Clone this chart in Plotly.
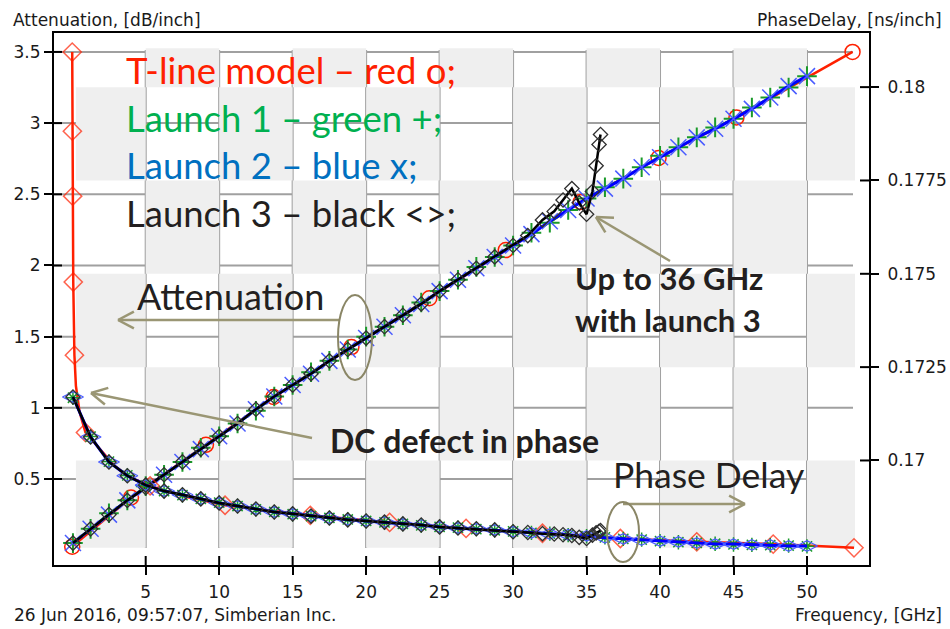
import math
import plotly.graph_objects as go

# ---------------- data ----------------
# Measured launches share one frequency grid (GHz)
FREQ = [0.05, 1.25, 2.5, 3.75, 5.0, 6.25, 7.5, 8.75, 10.0, 11.25, 12.5, 13.75, 15.0,
        16.25, 17.5, 18.75, 20.0, 21.25, 22.5, 23.75, 25.0, 26.25, 27.5, 28.75, 30.0,
        31.25, 32.5, 33.75, 35.0, 36.25, 37.5, 38.75, 40.0, 41.25, 42.5, 43.75, 45.0,
        46.25, 47.5, 48.75, 50.0]

# Launch 1 (green)
L1_ATT = [0.05, 0.15, 0.26, 0.35, 0.45, 0.53, 0.62, 0.72, 0.80, 0.89, 0.98, 1.08, 1.16,
          1.25, 1.33, 1.41, 1.50, 1.57, 1.65, 1.74, 1.82, 1.90, 1.99, 2.06, 2.14, 2.23,
          2.30, 2.39, 2.47, 2.55, 2.61, 2.69, 2.77, 2.83, 2.90, 2.97, 3.03, 3.11, 3.18,
          3.25, 3.33]
L1_PHASE = [0.17168, 0.17064, 0.16997, 0.16960, 0.16933, 0.16918, 0.16907, 0.16897,
            0.16887, 0.16878, 0.16869, 0.16862, 0.16856, 0.16851, 0.16846, 0.16842,
            0.16838, 0.16834, 0.16830, 0.16826, 0.16822, 0.16820, 0.16816, 0.16813,
            0.16810, 0.16806, 0.16804, 0.16800, 0.16797, 0.16794, 0.16790, 0.16788,
            0.16784, 0.16781, 0.16779, 0.16777, 0.16775, 0.16774, 0.16773, 0.16772,
            0.16770]

# Launch 2 (blue)
L2_ATT = [0.05, 0.15, 0.25, 0.35, 0.44, 0.53, 0.62, 0.71, 0.80, 0.89, 0.99, 1.08, 1.16,
          1.24, 1.33, 1.41, 1.49, 1.57, 1.65, 1.73, 1.82, 1.90, 1.98, 2.06, 2.14, 2.22,
          2.31, 2.39, 2.47, 2.54, 2.61, 2.69, 2.76, 2.83, 2.90, 2.96, 3.03, 3.10, 3.18,
          3.26, 3.33]
L2_PHASE = [0.17170, 0.17063, 0.16996, 0.16959, 0.16934, 0.16918, 0.16908, 0.16897,
            0.16886, 0.16878, 0.16870, 0.16862, 0.16857, 0.16851, 0.16846, 0.16841,
            0.16838, 0.16835, 0.16830, 0.16827, 0.16822, 0.16819, 0.16817, 0.16814,
            0.16809, 0.16806, 0.16803, 0.16801, 0.16798, 0.16793, 0.16790, 0.16787,
            0.16784, 0.16782, 0.16779, 0.16776, 0.16776, 0.16774, 0.16774, 0.16771,
            0.16771]

# Launch 3 (black) - valid up to 36 GHz
L3_FREQ = [0.05, 1.25, 2.5, 3.75, 5.0, 6.25, 7.5, 8.75, 10.0, 11.25, 12.5, 13.75, 15.0,
           16.25, 17.5, 18.75, 20.0, 21.25, 22.5, 23.75, 25.0, 26.25, 27.5, 28.75, 30.0,
           31.0, 32.0, 32.8, 33.4, 34.0, 34.5, 35.0, 35.4, 35.65, 35.85, 35.95]
L3_ATT = [0.05, 0.15, 0.25, 0.35, 0.44, 0.53, 0.62, 0.71, 0.80, 0.89, 0.99, 1.08, 1.16,
          1.24, 1.33, 1.41, 1.49, 1.57, 1.65, 1.73, 1.82, 1.90, 1.98, 2.06, 2.14,
          2.21, 2.32, 2.38, 2.46, 2.54, 2.44, 2.36, 2.52, 2.70, 2.85, 2.92]
L3_PHASE = [0.17170, 0.17063, 0.16996, 0.16959, 0.16934, 0.16918, 0.16908, 0.16897,
            0.16886, 0.16878, 0.16870, 0.16862, 0.16857, 0.16851, 0.16846, 0.16841,
            0.16838, 0.16835, 0.16830, 0.16827, 0.16822, 0.16819, 0.16817, 0.16814,
            0.16809, 0.16807, 0.16804, 0.16803, 0.16801, 0.16799, 0.16794, 0.16791,
            0.16800, 0.16806, 0.16810, 0.16812]

# T-line model (red)
TL_ATT_FREQ = [0.0, 4.0, 9.1, 13.7, 19.0, 24.3, 29.5, 34.6, 39.9, 45.2, 53.1]
TL_ATT = [0.025, 0.37, 0.74, 1.076, 1.427, 1.77, 2.108, 2.446, 2.755, 3.04, 3.5]

TL_PHASE_FREQ = [0.0, 0.01, 0.03, 0.07, 0.15, 0.25, 0.5, 0.9, 1.9, 2.9, 3.9, 5.3, 7.5,
                 10.4, 16.2, 21.6, 26.8, 32.0, 37.3, 42.5, 47.7, 53.2]
TL_PHASE = [0.18094, 0.17882, 0.17708, 0.17478, 0.17282, 0.17200, 0.17130, 0.17075,
            0.17030, 0.16985, 0.16955, 0.16932, 0.16905, 0.16880, 0.16853, 0.16834,
            0.16818, 0.16805, 0.16791, 0.16782, 0.16776, 0.16766]
TL_PHASE_MARKED = [0, 1, 2, 3, 4, 7, 11, 13, 14, 15, 16, 17, 18, 19, 20, 21]

# Axis ticks
X_TICKS = [5, 10, 15, 20, 25, 30, 35, 40, 45, 50]
ATT_TICKS = [0.5, 1.0, 1.5, 2.0, 2.5, 3.0, 3.5]
ATT_LABELS = ["0.5", "1", "1.5", "2", "2.5", "3", "3.5"]
PH_TICKS = [0.17, 0.1725, 0.175, 0.1775, 0.18]
PH_LABELS = ["0.17", "0.1725", "0.175", "0.1775", "0.18"]

# Background checker board: columns by frequency, rows by phase delay
CHECK_COLS = [0.25, 5, 10, 15, 20, 25, 30, 35, 40, 45, 50, 53.27]
CHECK_ROWS = [0.16766, 0.17, 0.1725, 0.175, 0.1775, 0.18, 0.18104]

# ---------------- styling ----------------
W, H = 950, 629
L, R, T, B = 54, 869, 33, 565
RED = "#ff2000"
GREEN = "#1a9a2a"
BLUE_LINE = "#0000ff"
BLUE_MK = "#4a5cff"
BLACK = "#000000"
KHAKI = "#9a9674"
TXT = "#231f20"
TICK_FONT = dict(family="DejaVu Sans", size=17, color="#1a1a1a")
NOTE_FONT = "Lato"


def px(p):
    return (p - L) / (R - L)


def py(p):
    return (B - p) / (B - T)


fig = go.Figure()

# T-line model
fig.add_trace(go.Scatter(
    x=TL_ATT_FREQ, y=TL_ATT, mode="lines+markers", yaxis="y",
    line=dict(color=RED, width=2.5),
    marker=dict(symbol="circle-open", size=15, color=RED, line=dict(width=1.5))))
fig.add_trace(go.Scatter(
    x=TL_PHASE_FREQ, y=TL_PHASE, mode="lines+markers", yaxis="y2",
    line=dict(color=RED, width=2.5),
    marker=dict(symbol="diamond-open", color=RED, line=dict(width=1.5),
                size=[14 if i in TL_PHASE_MARKED else 0 for i in range(len(TL_PHASE))])))

# Launch 1
fig.add_trace(go.Scatter(
    x=FREQ, y=L1_ATT, mode="lines+markers", yaxis="y",
    line=dict(color=GREEN, width=2),
    marker=dict(symbol="cross-thin-open", size=14, color=GREEN, line=dict(width=2))))
fig.add_trace(go.Scatter(
    x=FREQ, y=L1_PHASE, mode="lines+markers", yaxis="y2",
    line=dict(color=GREEN, width=2),
    marker=dict(symbol="asterisk-open", size=12, color=GREEN, line=dict(width=1.5))))

# Launch 2
fig.add_trace(go.Scatter(
    x=FREQ, y=L2_ATT, mode="lines+markers", yaxis="y",
    line=dict(color=BLUE_LINE, width=3),
    marker=dict(symbol="x-thin-open", size=16, color=BLUE_MK, line=dict(width=1.5))))
fig.add_trace(go.Scatter(
    x=FREQ, y=L2_PHASE, mode="lines+markers", yaxis="y2",
    line=dict(color=BLUE_LINE, width=3),
    marker=dict(symbol="diamond-wide-open", size=15, color=BLUE_MK, line=dict(width=1.2))))

# Launch 3
fig.add_trace(go.Scatter(
    x=L3_FREQ, y=L3_ATT, mode="lines+markers", yaxis="y",
    line=dict(color=BLACK, width=2.5),
    marker=dict(symbol="diamond-open", size=11, color="#303030", line=dict(width=1.3))))
fig.add_trace(go.Scatter(
    x=L3_FREQ, y=L3_PHASE, mode="lines+markers", yaxis="y2",
    line=dict(color=BLACK, width=2.5),
    marker=dict(symbol="diamond-open", size=11, color="#303030", line=dict(width=1.3))))

shapes = []
# checker board background
for i in range(len(CHECK_COLS) - 1):
    for j in range(len(CHECK_ROWS) - 1):
        if (i + j) % 2 == 0:
            shapes.append(dict(type="rect", xref="x", yref="y2", layer="below",
                               x0=CHECK_COLS[i], x1=CHECK_COLS[i + 1],
                               y0=CHECK_ROWS[j], y1=CHECK_ROWS[j + 1],
                               fillcolor="#efefef", line=dict(width=0)))
# grid
for xv in X_TICKS:
    shapes.append(dict(type="line", xref="x", yref="paper", layer="below",
                       x0=xv, x1=xv, y0=py(548), y1=py(50),
                       line=dict(color="#a0a0a0", width=2)))
for yv in ATT_TICKS:
    shapes.append(dict(type="line", xref="paper", yref="y", layer="below",
                       x0=0, x1=px(853), y0=yv, y1=yv,
                       line=dict(color="#a0a0a0", width=2)))
# tick stubs inside the frame
for xv in X_TICKS:
    shapes.append(dict(type="line", xref="x", yref="paper", x0=xv, x1=xv,
                       y0=0, y1=py(556), line=dict(color="black", width=2)))
for yv in ATT_TICKS:
    shapes.append(dict(type="line", xref="paper", yref="y", x0=0, x1=px(62),
                       y0=yv, y1=yv, line=dict(color="black", width=2)))
for yv in PH_TICKS:
    shapes.append(dict(type="line", xref="paper", yref="y2", x0=px(860), x1=1,
                       y0=yv, y1=yv, line=dict(color="black", width=2)))


def arrow(x0, y0, x1, y1, arm=18, ang=28):
    """Open chevron arrow in pixel space, head at (x1, y1)."""
    out = [dict(type="line", xref="paper", yref="paper",
                x0=px(x0), y0=py(y0), x1=px(x1), y1=py(y1),
                line=dict(color=KHAKI, width=2.5))]
    th = math.atan2(y0 - y1, x0 - x1)
    for s in (-1, 1):
        a = th + s * math.radians(ang)
        out.append(dict(type="line", xref="paper", yref="paper",
                        x0=px(x1), y0=py(y1),
                        x1=px(x1 + arm * math.cos(a)), y1=py(y1 + arm * math.sin(a)),
                        line=dict(color=KHAKI, width=2.5)))
    return out


def ellipse(cx, cy, rx, ry):
    return dict(type="circle", xref="paper", yref="paper",
                x0=px(cx - rx), x1=px(cx + rx), y0=py(cy + ry), y1=py(cy - ry),
                line=dict(color="#8a8666", width=2))


shapes += arrow(340, 320, 118, 320)
shapes += arrow(312, 438, 91, 393)
shapes += arrow(670, 261, 596, 217)
shapes += arrow(623, 504, 745, 504)
shapes.append(ellipse(355, 337.5, 17, 42.5))
shapes.append(ellipse(623, 532, 16, 30))

annotations = []


def note(text, x, y, size, color=TXT, bold=False, anchor="left", family=NOTE_FONT):
    t = "<b>%s</b>" % text if bold else text
    annotations.append(dict(text=t, xref="paper", yref="paper", x=px(x), y=py(y),
                            xanchor=anchor, yanchor="middle", showarrow=False,
                            font=dict(family=family, size=size, color=color)))


note("T-line model – red o;", 124, 70, 36.5, RED)
note("Launch 1 – green +;", 124, 118, 36.5, "#00b050")
note("Launch 2 – blue x;", 124, 165, 36.5, "#0070c0")
note("Launch 3 – black &lt;&gt;;", 124, 213, 36.5, TXT)
note("Attenuation", 135, 296, 36)
note("DC defect in phase", 328, 440, 32, bold=True)
note("Up to 36 GHz", 573, 278, 31, bold=True)
note("with launch 3", 573, 320, 31, bold=True)
note("Phase Delay", 611, 474, 35.5)

# axis captions
note("Attenuation, [dB/inch]", 11, 20, 17, "#1a1a1a", family="DejaVu Sans")
note("PhaseDelay, [ns/inch]", 944, 20, 17, "#1a1a1a", anchor="right", family="DejaVu Sans")
note("26 Jun 2016, 09:57:07, Simberian Inc.", 12, 615, 17, "#1a1a1a", family="DejaVu Sans")
note("Frequency, [GHz]", 944, 615, 17, "#1a1a1a", anchor="right", family="DejaVu Sans")

axis_common = dict(showgrid=False, zeroline=False, showline=True, linecolor="black",
                   linewidth=2, ticks="outside", ticklen=8, tickwidth=2,
                   tickcolor="black", tickfont=TICK_FONT, automargin=False)

fig.update_layout(
    width=W, height=H, autosize=False,
    margin=dict(l=L, r=W - R, t=T, b=H - B, pad=0),
    paper_bgcolor="white", plot_bgcolor="white", showlegend=False,
    xaxis=dict(range=[-1.24, 54.22], tickvals=X_TICKS, mirror=True,
               ticklabelstandoff=3, **axis_common),
    yaxis=dict(range=[-0.104, 3.633], tickvals=ATT_TICKS, ticktext=ATT_LABELS,
               **axis_common),
    yaxis2=dict(range=[0.16720, 0.18145], tickvals=PH_TICKS, ticktext=PH_LABELS,
                overlaying="y", side="right", ticklabelstandoff=5, **axis_common),
    shapes=shapes, annotations=annotations,
)

fig.write_html("out.html")
